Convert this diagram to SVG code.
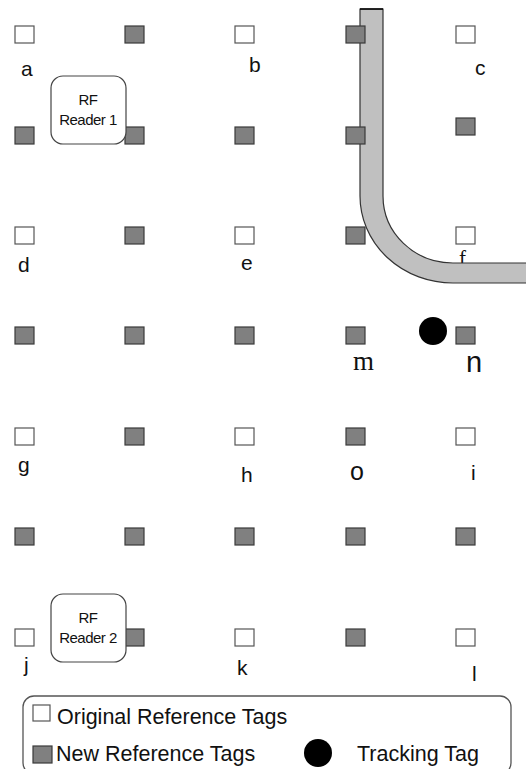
<svg xmlns="http://www.w3.org/2000/svg" width="526" height="769" viewBox="0 0 526 769">
<style>
.w{fill:#fff;stroke:#555;stroke-width:1.2}
.g{fill:#808080;stroke:#3a3a3a;stroke-width:1.2}
.lb{font-family:"Liberation Sans",Arial,sans-serif;font-size:21px;fill:#111}
.ls{font-family:"Liberation Serif","Times New Roman",serif;fill:#111}
.rd{fill:#fff;stroke:#444;stroke-width:1.2}
.rt{font-family:"Liberation Sans",Arial,sans-serif;font-size:15px;fill:#111;text-anchor:middle;letter-spacing:-0.5px}
.lg{font-family:"Liberation Sans",Arial,sans-serif;font-size:21.5px;fill:#111}
</style>
<defs>
<rect id="sq" width="19" height="17"/>
</defs>
<rect width="526" height="769" fill="#fff"/>
<text class="ls" x="459" y="265" font-size="21">f</text>
<g id="pipe">
<path d="M360,9 H383 V196 A70,67 0 0 0 453,263 H530 V283 H453 A93,87 0 0 1 360,196 Z" fill="#c0c0c0" stroke="#333" stroke-width="1.2"/>
<line x1="360" y1="9" x2="383" y2="9" stroke="#000" stroke-width="1.5"/>
</g>
<g id="tags">
<g id="r1">
<use href="#sq" x="15" y="26" class="w"/><use href="#sq" x="125" y="26" class="g"/><use href="#sq" x="235" y="26" class="w"/><use href="#sq" x="346" y="26" class="g"/><use href="#sq" x="456" y="26" class="w"/>
</g>
<g id="r2">
<use href="#sq" x="15" y="127" class="g"/><use href="#sq" x="125" y="127" class="g"/><use href="#sq" x="235" y="127" class="g"/><use href="#sq" x="346" y="127" class="g"/><use href="#sq" x="456" y="118" class="g"/>
</g>
<g id="r3">
<use href="#sq" x="15" y="227" class="w"/><use href="#sq" x="125" y="227" class="g"/><use href="#sq" x="235" y="227" class="w"/><use href="#sq" x="346" y="227" class="g"/><use href="#sq" x="456" y="227" class="w"/>
</g>
<g id="r4">
<use href="#sq" x="15" y="327" class="g"/><use href="#sq" x="125" y="327" class="g"/><use href="#sq" x="235" y="327" class="g"/><use href="#sq" x="346" y="327" class="g"/><use href="#sq" x="456" y="327" class="g"/>
</g>
<g id="r5">
<use href="#sq" x="15" y="428" class="w"/><use href="#sq" x="125" y="428" class="g"/><use href="#sq" x="235" y="428" class="w"/><use href="#sq" x="346" y="428" class="g"/><use href="#sq" x="456" y="428" class="w"/>
</g>
<g id="r6">
<use href="#sq" x="15" y="528" class="g"/><use href="#sq" x="125" y="528" class="g"/><use href="#sq" x="235" y="528" class="g"/><use href="#sq" x="346" y="528" class="g"/><use href="#sq" x="456" y="528" class="g"/>
</g>
<g id="r7">
<use href="#sq" x="15" y="629" class="w"/><use href="#sq" x="125" y="629" class="g"/><use href="#sq" x="235" y="629" class="w"/><use href="#sq" x="346" y="629" class="g"/><use href="#sq" x="456" y="629" class="w"/>
</g>
</g>
<g id="labels">
<text class="lb" x="21" y="76">a</text>
<text class="lb" x="249" y="72">b</text>
<text class="lb" x="475" y="75">c</text>
<text class="lb" x="18" y="272">d</text>
<text class="lb" x="241" y="270">e</text>
<text class="lb" x="18" y="472">g</text>
<text class="lb" x="241" y="482">h</text>
<text class="lb" x="350" y="480" style="font-size:25px">o</text>
<text class="lb" x="471" y="480">i</text>
<text class="lb" x="24" y="672">j</text>
<text class="lb" x="237" y="675">k</text>
<text class="lb" x="472" y="681">l</text>
<text class="ls" x="353" y="370" font-size="27">m</text>
<text class="lb" x="466" y="372" style="font-size:29px">n</text>
</g>
<g id="reader1">
<rect class="rd" x="51" y="76" width="75" height="68" rx="12"/>
<text class="rt" x="88" y="105">RF</text>
<text class="rt" x="88" y="125">Reader 1</text>
</g>
<g id="reader2">
<rect class="rd" x="51" y="594" width="75" height="68" rx="12"/>
<text class="rt" x="88" y="623">RF</text>
<text class="rt" x="88" y="643">Reader 2</text>
</g>
<g id="tracking">
<circle cx="433" cy="331" r="14" fill="#000"/>
</g>
<g id="legend">
<rect x="23" y="696" width="488" height="78" rx="11" fill="none" stroke="#555" stroke-width="1.3"/>
<rect x="33" y="705" width="17" height="16" class="w"/>
<text class="lg" x="57" y="724">Original Reference Tags</text>
<rect x="33" y="746" width="19" height="17" class="g"/>
<text class="lg" x="56" y="761">New Reference Tags</text>
<circle cx="318" cy="753" r="14" fill="#000"/>
<text class="lg" x="357" y="761">Tracking Tag</text>
</g>
</svg>
